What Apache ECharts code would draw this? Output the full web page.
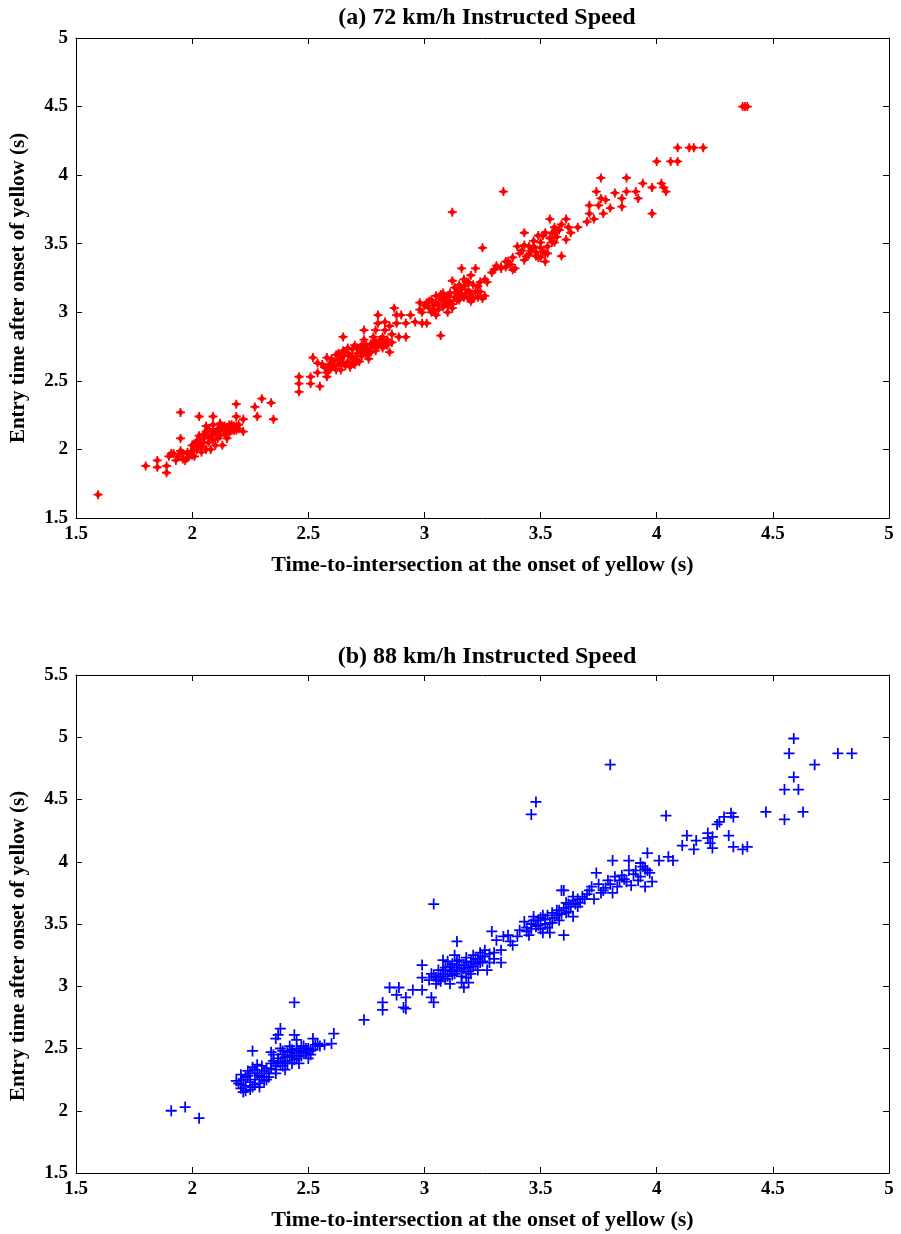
<!DOCTYPE html>
<html>
<head>
<meta charset="utf-8">
<script src="https://cdn.jsdelivr.net/npm/echarts@6/dist/echarts.min.js"></script>
<style>html,body{margin:0;padding:0;background:#fff;}#c{width:901px;height:1234px;}</style>
</head>
<body>
<div id="c"></div>
<script>
// ---- Data ----
const titleA = "(a) 72 km/h Instructed Speed";
const titleB = "(b) 88 km/h Instructed Speed";
const xLabel = "Time-to-intersection at the onset of yellow (s)";
const yLabel = "Entry time after onset of yellow (s)";

const pointsA = [
[1.595,1.67],[1.80,1.88],[1.85,1.92],[1.85,1.87],[1.89,1.88],[1.89,1.83],[1.95,2.27],[1.95,2.08],[2.03,2.24],[2.09,2.24],[2.19,2.33],[2.30,2.37],[2.34,2.34],[2.27,2.31],[2.19,2.24],[2.22,2.22],[2.28,2.24],[2.35,2.22],[2.22,2.13],
[1.90,1.95],[1.92,1.97],[1.94,1.95],[1.96,1.97],[1.98,1.94],[1.93,1.92],[1.97,1.92],[1.99,1.96],[2.00,1.99],[1.91,1.97],[1.95,1.99],[2.01,1.95],
[2.00,2.03],[2.02,2.06],[2.04,2.02],[2.05,2.08],[2.03,2.10],[2.07,2.05],[2.08,2.10],[2.06,2.13],[2.10,2.12],[2.09,2.07],[2.11,2.15],[2.12,2.10],[2.13,2.17],[2.14,2.13],[2.15,2.16],[2.16,2.12],[2.17,2.18],[2.18,2.14],[2.19,2.17],[2.20,2.15],[2.12,2.19],[2.06,2.17],[2.02,2.00],[2.04,1.98],[2.10,2.03],[2.15,2.08],[2.08,2.00],[2.13,2.03],
[1.96,1.93],[1.98,1.98],[2.00,1.96],[2.01,2.01],[2.03,2.04],[2.05,2.05],[2.06,2.00],[2.07,2.09],[2.09,2.14],[2.11,2.11],[2.12,2.14],[2.14,2.17],[2.16,2.15],[2.17,2.14],[2.18,2.17],[2.14,2.11],[2.11,2.08],[2.05,2.11],[2.03,2.07],[2.01,2.04],[2.07,2.15],[2.09,2.18],[2.16,2.18],[2.19,2.14],[2.20,2.18],
[2.46,2.42],[2.46,2.53],[2.51,2.53],[2.46,2.48],[2.51,2.48],[2.55,2.46],[2.52,2.67],[2.54,2.63],[2.58,2.67],[2.54,2.56],[2.58,2.53],[2.58,2.56],[2.65,2.82],[2.65,2.72],[2.80,2.98],[2.80,2.92],[2.74,2.87],[2.79,2.87],[2.83,2.87],[2.85,2.71],[2.88,2.92],[2.92,2.92],[2.89,2.82],[2.92,2.82],[2.88,2.98],[2.90,2.98],[2.94,2.98],[2.87,3.03],[2.96,2.93],[2.99,2.92],[3.01,2.92],[2.98,3.07],[3.02,3.08],[3.05,3.07],[3.08,3.09],[3.10,3.05],[2.99,3.00],[3.05,2.98],[3.02,3.03],[3.07,2.83],
[2.60,2.60],[2.62,2.58],[2.61,2.64],[2.63,2.62],[2.64,2.66],[2.62,2.69],[2.66,2.61],[2.67,2.64],[2.68,2.68],[2.66,2.71],[2.69,2.73],[2.70,2.66],[2.71,2.70],[2.72,2.74],[2.73,2.68],[2.74,2.72],[2.75,2.76],[2.76,2.70],[2.77,2.74],[2.78,2.78],[2.79,2.72],[2.80,2.76],[2.81,2.80],[2.82,2.74],[2.83,2.78],[2.70,2.62],[2.72,2.64],[2.64,2.58],[2.68,2.60],[2.76,2.66],[2.60,2.66],[2.70,2.76],[2.74,2.80],[2.78,2.82],[2.84,2.76],
[2.57,2.60],[2.59,2.62],[2.61,2.61],[2.63,2.65],[2.65,2.63],[2.65,2.68],[2.67,2.70],[2.69,2.67],[2.69,2.63],[2.71,2.65],[2.71,2.74],[2.73,2.71],[2.75,2.69],[2.75,2.73],[2.77,2.71],[2.77,2.77],[2.79,2.75],[2.79,2.79],[2.81,2.77],[2.82,2.82],[2.84,2.80],[2.73,2.76],[2.67,2.74],[2.63,2.70],[2.59,2.58],[2.56,2.62],[2.86,2.78],[2.86,2.84],[2.85,2.90],[2.83,2.93],
[3.12,3.73],[3.25,3.47],
[2.98,3.02],[3.00,3.05],[3.03,3.00],[3.04,3.05],[3.06,3.02],[3.07,3.10],[3.09,3.06],[3.10,3.12],[3.11,3.08],[3.12,3.03],[3.13,3.11],[3.14,3.15],[3.15,3.09],[3.16,3.13],[3.17,3.19],[3.18,3.14],[3.19,3.10],[3.20,3.08],[3.21,3.10],[3.23,3.11],[3.25,3.10],[3.13,3.18],[3.15,3.20],[3.18,3.22],[3.08,3.14],[3.05,3.12],[3.10,3.00],[3.24,3.15],[3.27,3.22],
[3.01,3.07],[3.03,3.09],[3.06,3.06],[3.08,3.04],[3.09,3.10],[3.11,3.14],[3.12,3.06],[3.14,3.09],[3.15,3.13],[3.16,3.17],[3.17,3.11],[3.19,3.16],[3.20,3.13],[3.22,3.15],[3.23,3.19],[3.21,3.20],[3.19,3.22],[3.26,3.12],[3.04,3.02],[3.07,3.13],
[3.16,3.32],[3.22,3.32],[3.20,3.27],[3.12,3.23],[3.17,3.24],[3.24,3.22],[3.26,3.24],[3.29,3.29],[3.33,3.32],[3.35,3.37],[3.38,3.40],[3.38,3.31],[3.39,3.32],[3.40,3.48],[3.43,3.49],[3.47,3.48],[3.50,3.47],[3.41,3.43],[3.45,3.42],[3.49,3.40],[3.53,3.43],[3.52,3.37],[3.43,3.38],[3.43,3.58],[3.49,3.56],[3.52,3.58],[3.55,3.58],[3.50,3.51],[3.56,3.51],[3.54,3.68],[3.56,3.62],[3.61,3.68],[3.61,3.53],[3.62,3.62],[3.59,3.41],
[3.42,3.45],[3.44,3.41],[3.46,3.45],[3.48,3.44],[3.47,3.52],[3.51,3.44],[3.53,3.48],[3.54,3.54],[3.57,3.55],[3.58,3.60],[3.59,3.64],[3.31,3.34],[3.35,3.33],[3.37,3.35],
[3.34,3.88],[4.09,4.20],[4.14,4.20],[4.16,4.20],[4.20,4.20],[4.00,4.10],[4.06,4.10],[4.09,4.10],[3.76,3.98],[3.87,3.98],[3.94,3.94],[3.98,3.91],[4.02,3.94],[4.03,3.91],[4.04,3.88],[3.74,3.88],[3.82,3.87],[3.87,3.88],[3.91,3.88],[3.92,3.83],[3.98,3.72],[3.76,3.83],[3.78,3.82],[3.77,3.72],[3.80,3.76],[3.85,3.77],[3.85,3.83],[3.71,3.78],[3.71,3.72],[3.70,3.66],[3.73,3.68],[3.75,3.78],
[3.66,3.62],[3.63,3.58],[3.56,3.58],[3.52,3.43],[3.50,3.40],[3.48,3.41],[3.45,3.48],[3.36,3.37],[3.33,3.33],[3.30,3.31],[3.51,3.56],[3.55,3.51],
[4.37,4.50],[4.38,4.50],[4.39,4.50]
];

const pointsB = [
[1.91,2.00],[1.97,2.03],[2.03,1.94],[2.44,2.87],[2.74,2.73],[2.61,2.62],[2.60,2.54],
[2.38,2.66],[2.37,2.61],[2.36,2.58],[2.44,2.61],[2.45,2.57],[2.52,2.58],[2.54,2.54],[2.26,2.48],[2.34,2.47],[2.57,2.53],
[2.20,2.22],[2.21,2.18],[2.22,2.25],[2.23,2.20],[2.22,2.15],[2.24,2.28],[2.25,2.23],[2.26,2.19],[2.27,2.25],[2.28,2.30],[2.29,2.22],[2.30,2.27],[2.31,2.32],[2.32,2.25],[2.33,2.30],[2.24,2.32],[2.26,2.35],[2.28,2.37],[2.30,2.36],[2.21,2.29],[2.25,2.17],[2.19,2.24],[2.23,2.16],
[2.34,2.34],[2.35,2.40],[2.36,2.36],[2.37,2.42],[2.38,2.38],[2.39,2.45],[2.40,2.40],[2.41,2.47],[2.42,2.43],[2.43,2.38],[2.44,2.46],[2.45,2.50],[2.46,2.44],[2.47,2.48],[2.48,2.52],[2.49,2.46],[2.50,2.50],[2.51,2.45],[2.52,2.49],[2.53,2.53],[2.35,2.45],[2.38,2.50],[2.42,2.52],[2.46,2.38],[2.40,2.33],[2.50,2.42],[2.44,2.41],[2.36,2.30],
[2.23,2.27],[2.25,2.30],[2.27,2.21],[2.29,2.28],[2.31,2.24],[2.32,2.34],[2.33,2.27],[2.34,2.38],[2.36,2.33],[2.37,2.39],[2.39,2.36],[2.40,2.43],[2.41,2.38],[2.42,2.47],[2.43,2.44],[2.45,2.42],[2.46,2.48],[2.47,2.44],[2.48,2.47],[2.49,2.50],[2.51,2.48],[2.39,2.48],[2.43,2.49],[2.47,2.52],[2.27,2.33],[2.29,2.19],[2.21,2.21],[2.55,2.52],
[2.82,2.87],[2.82,2.81],[2.91,2.83],[2.92,2.82],[2.92,2.91],[2.88,2.93],[2.85,2.99],[2.89,2.99],[2.95,2.97],[2.99,2.97],[3.03,2.91],[3.04,2.87],[2.99,3.07],[2.99,3.17],[3.08,3.21],[3.04,3.66],[3.16,3.03],[3.19,3.03],[3.17,2.99],[3.27,3.13],[3.28,3.19],[3.29,3.44],[3.14,3.36],
[3.02,3.05],[3.03,3.10],[3.05,3.07],[3.06,3.13],[3.07,3.04],[3.08,3.10],[3.09,3.15],[3.10,3.08],[3.11,3.12],[3.12,3.18],[3.13,3.10],[3.14,3.15],[3.15,3.21],[3.16,3.12],[3.17,3.17],[3.18,3.23],[3.19,3.15],[3.20,3.20],[3.21,3.25],[3.22,3.18],[3.23,3.22],[3.24,3.27],[3.25,3.20],[3.26,3.24],[3.10,3.20],[3.13,3.25],[3.05,3.02],[3.20,3.10],[3.23,3.13],[3.18,3.07],[3.11,3.02],[3.28,3.26],[3.30,3.22],
[3.04,3.08],[3.06,3.05],[3.08,3.13],[3.09,3.06],[3.11,3.16],[3.12,3.09],[3.14,3.12],[3.15,3.17],[3.16,3.08],[3.18,3.19],[3.19,3.12],[3.21,3.16],[3.22,3.22],[3.24,3.19],[3.25,3.24],[3.14,3.20],[3.17,3.14],[3.12,3.13],[3.07,3.08],[3.26,3.29],
[3.33,3.19],[3.30,3.27],[3.33,3.29],[3.31,3.37],[3.34,3.40],[3.36,3.41],[3.38,3.33],[3.37,3.36],
[3.41,3.45],[3.44,3.47],[3.48,3.48],[3.45,3.41],[3.51,3.43],[3.54,3.43],[3.47,3.56],[3.51,3.57],[3.55,3.59],[3.58,3.61],[3.61,3.67],[3.64,3.69],[3.66,3.64],[3.60,3.41],[3.55,3.51],[3.58,3.53],[3.64,3.56],[3.59,3.77],
[3.40,3.40],[3.43,3.52],[3.46,3.50],[3.49,3.53],[3.52,3.50],[3.57,3.57],[3.62,3.60],[3.67,3.67],[3.69,3.70],
[3.44,3.44],[3.46,3.46],[3.47,3.53],[3.49,3.49],[3.50,3.55],[3.52,3.54],[3.53,3.57],[3.54,3.51],[3.56,3.55],[3.57,3.61],[3.59,3.58],[3.60,3.63],[3.61,3.59],[3.63,3.64],[3.65,3.66],[3.62,3.66],[3.50,3.46],[3.53,3.47],
[3.96,4.07],[4.01,4.01],[4.05,4.04],[4.07,4.01],[3.81,4.01],[3.88,4.01],[3.93,3.99],[3.96,3.93],[3.97,3.91],[3.88,3.93],[3.85,3.89],[3.74,3.91],[3.79,3.85],[3.84,3.85],[3.92,3.85],[3.98,3.84],[3.95,3.80],[3.89,3.81],[3.71,3.77],[3.76,3.75],[3.60,3.77],[3.64,3.72],[3.81,3.75],
[3.70,3.74],[3.72,3.80],[3.75,3.82],[3.78,3.79],[3.82,3.88],[3.86,3.86],[3.90,3.90],[3.94,3.96],[3.73,3.70],[3.68,3.72],
[3.77,3.77],[3.80,3.82],[3.83,3.80],[3.87,3.84],[3.91,3.93],[3.93,3.88],[3.95,3.94],[3.66,3.70],
[4.13,4.21],[4.17,4.17],[4.22,4.23],[4.24,4.20],[4.23,4.15],[4.24,4.11],[4.11,4.13],[4.16,4.10],[4.22,4.19],[4.31,4.21],[4.33,4.12],[4.37,4.10],[4.39,4.12],
[4.32,4.39],[4.29,4.36],[4.33,4.36],[4.27,4.32],[4.26,4.30],
[3.80,4.78],[4.04,4.37],[3.46,4.38],[3.48,4.48],
[4.59,4.99],[4.57,4.87],[4.78,4.87],[4.84,4.87],[4.68,4.78],[4.59,4.68],[4.55,4.58],[4.61,4.58],[4.47,4.40],[4.55,4.34],[4.63,4.40]
];

const xTicks = [1.5, 2, 2.5, 3, 3.5, 4, 4.5, 5];
const yTicksA = [1.5, 2, 2.5, 3, 3.5, 4, 4.5, 5];
const yTicksB = [1.5, 2, 2.5, 3, 3.5, 4, 4.5, 5, 5.5];

// ---- Chart ----
const FONT = "Liberation Serif";
const chart = echarts.init(document.getElementById('c'), null, {renderer: 'canvas'});

function xAx(gi, ticks, main) {
  return {
    type: 'value', gridIndex: gi, position: main ? 'bottom' : 'top',
    min: ticks[0], max: ticks[ticks.length - 1], interval: 0.5,
    name: main ? xLabel : '', nameLocation: 'middle', nameGap: 36,
    nameTextStyle: {fontFamily: FONT, fontWeight: 'bold', fontSize: 22, color: '#000'},
    axisLine: {show: true, onZero: false, lineStyle: {color: '#000', width: 1}},
    axisTick: {show: true, inside: true, length: 6, lineStyle: {color: '#000'}},
    axisLabel: {show: main, margin: 7, fontFamily: FONT, fontWeight: 'bold', fontSize: 19, color: '#000'},
    splitLine: {show: false}
  };
}
function yAx(gi, ticks, main, shiftPad) {
  return {
    type: 'value', gridIndex: gi, position: main ? 'left' : 'right',
    min: ticks[0], max: ticks[ticks.length - 1], interval: 0.5,
    name: main ? yLabel : '', nameLocation: 'middle', nameGap: 47,
    nameTextStyle: {fontFamily: FONT, fontWeight: 'bold', fontSize: 21, color: '#000',
                    padding: [0, shiftPad || 0, 0, 0]},
    axisLine: {show: true, onZero: false, lineStyle: {color: '#000', width: 1}},
    axisTick: {show: true, inside: true, length: 6, lineStyle: {color: '#000'}},
    axisLabel: {show: main, margin: 8, fontFamily: FONT, fontWeight: 'bold', fontSize: 19, color: '#000'},
    splitLine: {show: false}
  };
}

const starPath = 'path://M4,0 H6 V2 L8,4 H10 V6 H8 L6,8 V10 H4 V8 L2,6 H0 V4 H2 L4,2 Z';
const plusPath = 'path://M4.2,0 H5.8 V4.2 H10 V5.8 H5.8 V10 H4.2 V5.8 H0 V4.2 H4.2 Z';

chart.setOption({
  animation: false,
  backgroundColor: '#fff',
  title: [
    {text: titleA, left: 482, top: 1, textAlign: 'center',
     textStyle: {fontFamily: FONT, fontWeight: 'bold', fontSize: 24, color: '#000'}},
    {text: titleB, left: 482, top: 640, textAlign: 'center',
     textStyle: {fontFamily: FONT, fontWeight: 'bold', fontSize: 24, color: '#000'}}
  ],
  grid: [
    {left: 76, top: 38, width: 813, height: 480},
    {left: 76, top: 675, width: 813, height: 498}
  ],
  xAxis: [xAx(0, xTicks, true), xAx(0, xTicks, false), xAx(1, xTicks, true), xAx(1, xTicks, false)],
  yAxis: [yAx(0, yTicksA, true, 20), yAx(0, yTicksA, false), yAx(1, yTicksB, true, 44), yAx(1, yTicksB, false)],
  series: [
    {type: 'scatter', xAxisIndex: 0, yAxisIndex: 0, data: pointsA,
     symbol: starPath, symbolSize: 9, itemStyle: {color: '#ff0000', opacity: 1}},
    {type: 'scatter', xAxisIndex: 2, yAxisIndex: 2, data: pointsB,
     symbol: plusPath, symbolSize: 11, itemStyle: {color: '#0000ff', opacity: 1}}
  ]
});
</script>
</body>
</html>
